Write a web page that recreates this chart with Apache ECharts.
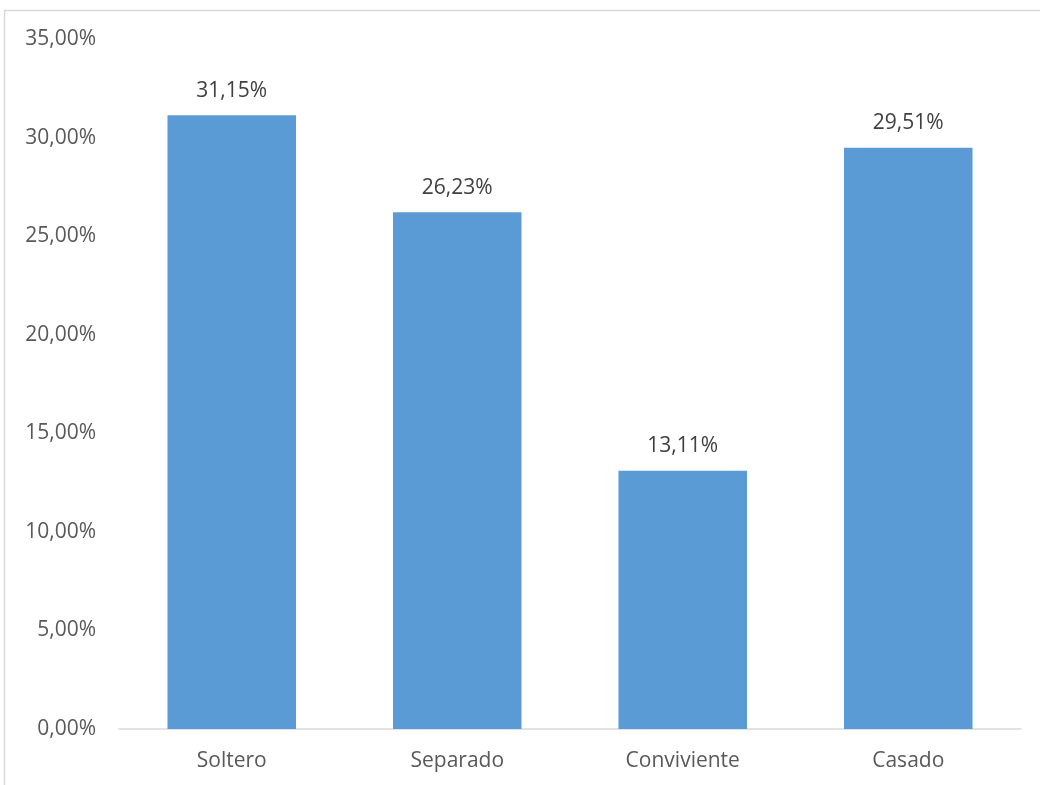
<!DOCTYPE html>
<html>
<head>
<meta charset="utf-8">
<script src="https://cdn.jsdelivr.net/npm/echarts@6/dist/echarts.min.js"></script>
<style>
  html, body { margin: 0; padding: 0; background: #fff; }
  #chart { width: 1040px; height: 785px; }
</style>
</head>
<body>
<div id="chart"></div>
<script>
// Estado civil: share of respondents per category (%)
const categories = ['Soltero', 'Separado', 'Conviviente', 'Casado'];
const values = [31.15, 26.23, 13.11, 29.51];
const yTicks = [0, 5, 10, 15, 20, 25, 30, 35];

const fmt = v => v.toFixed(2).replace('.', ',') + '%';
const FONT = '"Open Sans", "Noto Sans", sans-serif';

const chart = echarts.init(document.getElementById('chart'), null, { renderer: 'canvas' });
chart.setOption({
  animation: false,
  backgroundColor: '#ffffff',
  graphic: [
    // chart frame (top and left edges)
    { type: 'line', shape: { x1: 4, y1: 10.5, x2: 1040, y2: 10.5 }, style: { stroke: '#d9d9d9', lineWidth: 1.5 } },
    { type: 'line', shape: { x1: 4.5, y1: 10, x2: 4.5, y2: 785 }, style: { stroke: '#d9d9d9', lineWidth: 1.5 } }
  ],
  grid: { left: 119, right: 19, top: 39.5, bottom: 56, containLabel: false },
  xAxis: {
    type: 'category',
    data: categories,
    axisLine: { lineStyle: { color: '#d9d9d9', width: 1.5 } },
    axisTick: { show: false },
    axisLabel: { color: '#595959', fontSize: 21, fontFamily: FONT, margin: 22 }
  },
  yAxis: {
    type: 'value',
    min: yTicks[0],
    max: yTicks[yTicks.length - 1],
    interval: 5,
    axisLine: { show: false },
    axisTick: { show: false },
    splitLine: { show: false },
    axisLabel: { color: '#595959', fontSize: 21, fontFamily: FONT, margin: 23, formatter: fmt }
  },
  series: [{
    type: 'bar',
    data: values,
    barWidth: '57%',
    itemStyle: { color: '#5b9bd5' },
    label: {
      show: true,
      position: 'top',
      distance: 14,
      color: '#404040',
      fontSize: 21,
      fontFamily: FONT,
      formatter: p => fmt(p.value)
    }
  }]
});
</script>
</body>
</html>
